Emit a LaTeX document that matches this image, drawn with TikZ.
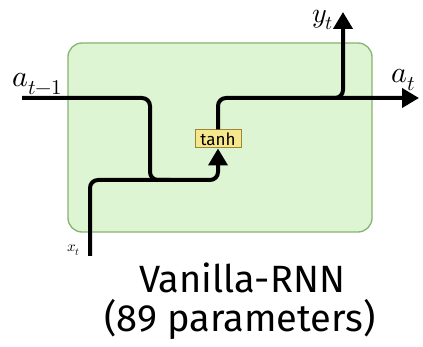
\documentclass[tikz,border=0pt]{standalone}
\usepackage{fontspec}
\usepackage{unicode-math}
\setmathfont{Latin Modern Math}
\setsansfont{Fira Sans}
\usetikzlibrary{arrows.meta}
\definecolor{cellfill}{HTML}{DDF5D2}
\definecolor{celldraw}{HTML}{86B470}
\definecolor{tanhfill}{HTML}{F6E78C}
\definecolor{tanhdraw}{HTML}{9C8636}
\begin{document}
\begin{tikzpicture}[x=1pt,y=-1pt,
  wire/.style={line width=4pt,rounded corners=8pt,black},
  tip/.style={-{Triangle[length=17pt,width=19pt]}},
  cell/.style={draw=celldraw,fill=cellfill,line width=1.3pt,rounded corners=14pt},
  act/.style={draw=tanhdraw,fill=tanhfill,line width=1pt,minimum width=46pt,minimum height=18pt,inner sep=0pt,font=\sffamily\fontsize{17}{17}\selectfont},
  mlabel/.style={inner sep=0pt,anchor=base west,font=\fontsize{30}{30}\selectfont},
  title/.style={inner sep=0pt,anchor=base,font=\sffamily\fontsize{38}{38}\selectfont}]
\useasboundingbox (0,0) rectangle (423,347);
\draw[cell] (68,43) rectangle (372,232);
\node[act] (tanh) at (218,139) {tanh};
\coordinate (ain) at (22,98);
\coordinate (xin) at (90,256);
\coordinate (aout) at (419,98);
\coordinate (yout) at (343,12);
\draw[wire,tip] (ain) -- (150,98) -- (150,180) -- (218,180) -- (tanh.south);
\draw[wire] (xin) -- (90,180) -- (170,180);
\draw[wire,tip] (tanh.north) -- (218,98) -- (aout);
\draw[wire,tip] (320,98) -- (343,98) -- (yout);
\node[mlabel] (lain) at (12,87) {$a_{t-1}$};
\node[mlabel] (laout) at (391,83) {$a_t$};
\node[mlabel,font=\fontsize{28}{28}\selectfont] (lyout) at (312,23) {$y_t$};
\node[inner sep=0pt,anchor=base west,font=\fontsize{15}{15}\selectfont] (lxin) at (67,252) {$x_t$};
\node[title] (t1) at (242,293) {Vanilla-RNN};
\node[title] (t2) at (240,331) {(89 parameters)};
\end{tikzpicture}
\end{document}
